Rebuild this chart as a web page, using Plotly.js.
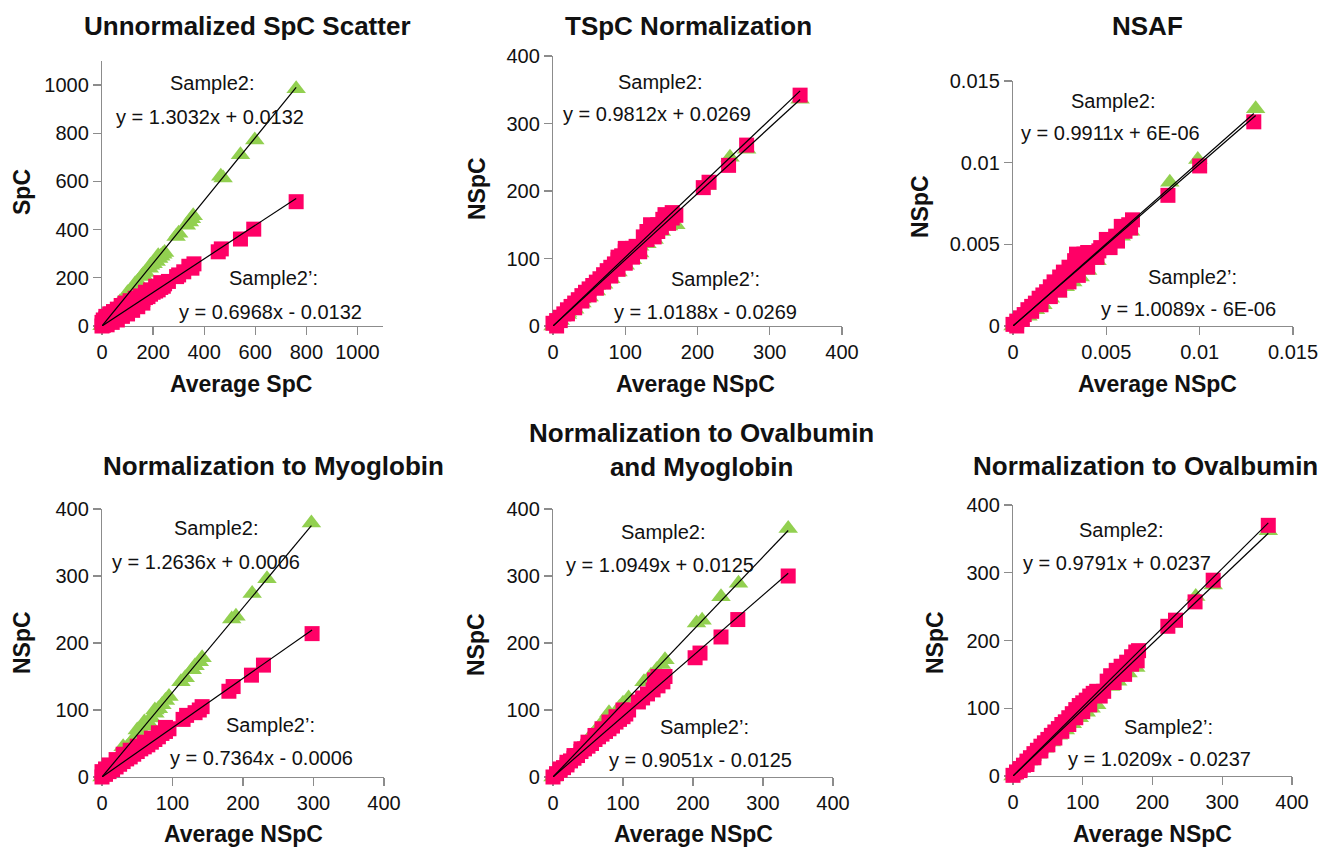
<!DOCTYPE html>
<html><head><meta charset="utf-8">
<script src="https://cdn.plot.ly/plotly-3.0.1.min.js"></script>
<style>html,body{margin:0;padding:0;background:#fff}#chart{width:1321px;height:847px}</style>
</head><body><div id="chart"></div><script>
// ---------- DATA ----------
const panelTitles = ["Unnormalized SpC Scatter", "TSpC Normalization", "NSAF",
  "Normalization to Myoglobin", "Normalization to Ovalbumin<br>and Myoglobin", "Normalization to Ovalbumin"];
const xTitles = ["Average SpC", "Average NSpC", "Average NSpC", "Average NSpC", "Average NSpC", "Average NSpC"];
const yTitles = ["SpC", "NSpC", "NSpC", "NSpC", "NSpC", "NSpC"];
const seriesNames = ["Sample2", "Sample2'"];

// Sample2 (green) and Sample2' (pink) trendline coefficients
const slopeSample2 = [1.3032, 0.9812, 0.9911, 1.2636, 1.0949, 0.9791];
const interceptSample2 = [0.0132, 0.0269, 0.000006, 0.0006, 0.0125, 0.0237];
const slopeSample2p = [0.6968, 1.0188, 1.0089, 0.7364, 0.9051, 1.0209];
const interceptSample2p = [-0.0132, -0.0269, -0.000006, -0.0006, -0.0125, -0.0237];
const eqSample2 = ["y = 1.3032x + 0.0132", "y = 0.9812x + 0.0269", "y = 0.9911x + 6E-06",
  "y = 1.2636x + 0.0006", "y = 1.0949x + 0.0125", "y = 0.9791x + 0.0237"];
const eqSample2p = ["y = 0.6968x - 0.0132", "y = 1.0188x - 0.0269", "y = 1.0089x - 6E-06",
  "y = 0.7364x - 0.0006", "y = 0.9051x - 0.0125", "y = 1.0209x - 0.0237"];

const xTickVals = [[0,200,400,600,800,1000],[0,100,200,300,400],[0,0.005,0.01,0.015],[0,100,200,300,400],[0,100,200,300,400],[0,100,200,300,400]];
const xTickText = [["0","200","400","600","800","1000"],["0","100","200","300","400"],["0","0.005","0.01","0.015"],["0","100","200","300","400"],["0","100","200","300","400"],["0","100","200","300","400"]];

// Panel 1: Unnormalized SpC
const p1GreenX = [760,598,542,474,465,357,350,342,330,300,290,245,238,230,222,212,200,185,170,155,140,125,110,95,80,65,50,35,20,10,5,0,40,70,100,130,160,190,220];
const p1GreenY = [985,772,711,614,622,458,445,432,418,385,372,305,298,290,280,268,258,240,222,205,185,165,146,126,106,88,68,48,28,15,7,1,62,100,138,175,212,252,292];
const p1PinkX = [760,594,542,467,455,360,352,340,320,300,292,260,245,240,230,220,210,200,190,180,170,160,150,140,130,120,110,100,90,80,70,60,50,40,30,20,10,5,0,15,25,35,45,60,75,90,110,130,150,170,190,210,230,10,0,20,40,60,80,100,120,140,160,5,15,30,50];
const p1PinkY = [516,402,361,320,308,258,240,248,225,212,205,185,175,165,160,150,145,140,132,122,118,110,104,96,90,82,76,70,62,55,48,42,35,28,20,14,7,3,0,30,40,50,60,70,85,95,105,115,125,140,150,165,180,20,15,5,15,25,40,50,65,80,95,25,40,50,55];

// Panel 2: TSpC normalization
const p2GreenX = [342,268,245,213,170,160,150,140,130,120,110,100,90,80,70,60,50,40,30,20,10,0,120,100,80,60,40,20];
const p2GreenY = [336,262,250,208,150,148,140,128,122,108,98,90,80,70,62,52,43,34,25,17,8,0,118,98,80,60,40,20];
const p2PinkX = [342,268,243,216,208,165,160,152,145,138,130,125,110,105,100,95,90,85,80,75,70,65,60,55,50,45,40,35,30,25,20,15,10,5,0,110,100,90,80,70,60,50,40,30,20,10,160,150,140,5,115,120,135,155,165,170,100,90,130,145];
const p2PinkY = [342,268,238,213,205,168,162,158,150,145,140,132,115,112,110,104,98,92,87,82,76,70,65,60,55,50,45,39,34,29,24,18,13,8,4,102,93,84,74,65,56,46,37,27,18,8,152,146,132,0,118,110,150,165,160,164,115,102,128,140];

// Panel 3: NSAF
const p3GreenX = [0.0130,0.0099,0.0084,0.0063,0.0058,0.0050,0.0045,0.0040,0.0036,0.0032,0.0028,0.0024,0.0020,0.0016,0.0012,0.0008,0.0004,0];
const p3GreenY = [0.0133,0.0102,0.0088,0.0058,0.0055,0.0047,0.0040,0.0034,0.0030,0.0027,0.0024,0.0020,0.0017,0.0013,0.0010,0.0006,0.0003,0];
const p3PinkX = [0.0129,0.0100,0.0083,0.0064,0.0062,0.0060,0.0055,0.0050,0.0047,0.0040,0.0036,0.0033,0.0030,0.0027,0.0025,0.0022,0.0020,0.0018,0.0016,0.0014,0.0012,0.0010,0.0008,0.0006,0.0004,0.0002,0,0.0045,0.0040,0.0035,0.0030,0.0025,0.0020,0.0015,0.0010,0.0005,0.0002,0.0034,0.0038,0.0042,0.0046,0.0058,0.0063,0.0056,0.0052];
const p3PinkY = [0.0125,0.0098,0.0080,0.0065,0.0062,0.0058,0.0055,0.0053,0.0048,0.0045,0.0040,0.0040,0.0036,0.0033,0.0030,0.0027,0.0024,0.0021,0.0019,0.0017,0.0014,0.0012,0.0010,0.0007,0.0005,0.0003,0.0001,0.0042,0.0036,0.0031,0.0027,0.0022,0.0018,0.0013,0.0009,0.0004,0,0.0044,0.0044,0.0044,0.0046,0.0061,0.0060,0.0052,0.0048];

// Panel 4: normalization to myoglobin
const p4GreenX = [297,234,213,190,184,142,138,132,128,118,112,95,90,85,80,75,70,65,60,55,50,45,40,35,30,25,20,15,10,5,0,30,50,60,75];
const p4GreenY = [379,296,274,240,236,178,172,166,160,148,142,120,114,108,102,95,88,82,76,70,63,57,50,44,38,32,25,19,13,6,0,45,70,82,100];
const p4PinkX = [298,229,212,186,180,142,138,132,120,115,95,90,85,80,75,70,65,60,55,50,45,40,35,30,25,20,15,10,5,0,10,20,30,40,50,60,70,80,90,5,0];
const p4PinkY = [214,167,152,135,128,105,100,96,92,86,72,68,65,60,56,52,48,45,42,38,34,30,27,23,19,15,11,8,4,0,18,26,34,40,46,52,58,66,74,12,8];

// Panel 5: normalization to ovalbumin and myoglobin
const p5GreenX = [336,265,240,213,205,160,155,148,140,130,108,100,95,80,75,70,65,60,55,50,45,40,35,30,25,20,15,10,5,0];
const p5GreenY = [371,289,269,234,230,175,168,160,152,142,118,110,104,96,88,80,74,68,62,56,50,44,38,32,27,22,16,11,5,0];
const p5PinkX = [336,264,240,210,203,160,157,150,143,135,128,122,108,104,100,95,90,85,80,75,70,65,60,55,50,45,40,35,30,25,20,15,10,5,0,100,90,80,70,60,50,40,30,20,10,150,145];
const p5PinkY = [300,235,209,185,178,150,142,136,130,124,118,112,100,94,90,86,82,76,72,68,64,60,56,50,46,42,38,32,28,24,18,14,10,5,0,100,90,82,72,62,52,42,32,22,12,150,145];

// Panel 6: normalization to ovalbumin
const p6GreenX = [366,287,262,230,176,165,150,140,120,112,105,95,85,75,65,55,45,35,25,15,5,0];
const p6GreenY = [362,282,265,225,160,152,140,132,105,100,94,86,77,68,60,50,41,32,22,13,4,0];
const p6PinkX = [366,287,261,233,222,176,170,163,155,148,140,135,115,110,105,100,95,90,85,80,75,70,65,60,55,50,45,40,35,30,25,20,15,10,5,0,110,100,90,80,70,60,50,40,30,20,10,170,160,120,125,130,180,178,150,145];
const p6PinkY = [370,289,257,230,221,183,176,168,162,156,148,140,122,118,112,108,104,98,92,86,80,76,70,65,60,54,49,44,38,33,27,22,16,11,6,1,105,95,86,76,66,56,46,37,27,17,8,165,150,125,118,125,185,170,150,138];

const greenX = [p1GreenX,p2GreenX,p3GreenX,p4GreenX,p5GreenX,p6GreenX];
const greenY = [p1GreenY,p2GreenY,p3GreenY,p4GreenY,p5GreenY,p6GreenY];
const pinkX = [p1PinkX,p2PinkX,p3PinkX,p4PinkX,p5PinkX,p6PinkX];
const pinkY = [p1PinkY,p2PinkY,p3PinkY,p4PinkY,p5PinkY,p6PinkY];

// ---------- LAYOUT (pixel geometry) ----------
const W = 1321, H = 847;
const px = v => v / W, py = v => 1 - v / H;
const plotBoxes = [ // [left, right, top, bottom] in px
  [102,383,61,326],[553,842,56,326],[1013,1293,81,326],
  [102,384,509,777],[553,833,509,777],[1013,1292,505,776]];
const ranges = [[0,1100],[0,400],[0,0.015],[0,400],[0,400],[0,400]];
const titlePos = [[247,26],[689,26],[1147,26],[273,466],[701,450],[1145,466]];
const xTitlePos = [[241,384],[695,384],[1157,384],[243,834],[693,834],[1152,834]];
const yTitlePos = [[22,192],[477,189],[920,207],[22,643],[476,645],[935,642]];
const s2LabelPos = [[212,83],[660,82],[1113,101],[216,528],[663,532],[1121,530]];
const s2EqPos = [[210,117],[657,114],[1110,133],[206,562],[660,565],[1117,563]];
const s2pLabelPos = [[273,278],[715,279],[1192,277],[270,725],[704,727],[1168,727]];
const s2pEqPos = [[270,312],[705,312],[1188,309],[261,758],[700,760],[1159,759]];

const FONT = "Liberation Sans, Arial, Helvetica, sans-serif";
const GREEN = "#92D050", PINK = "#FF0066";

const traces = [];
const layout = {
  width: W, height: H, margin: {l:0,r:0,t:0,b:0},
  paper_bgcolor: "#fff", plot_bgcolor: "#fff", showlegend: false,
  font: {family: FONT, color: "#111"}, annotations: []
};

for (let i = 0; i < 6; i++) {
  const n = i === 0 ? "" : String(i + 1);
  const xa = "x" + n, ya = "y" + n;
  const [l, r, t, b] = plotBoxes[i];
  const axBase = {
    showline: true, linecolor: "#8c8c8c", linewidth: 1.2,
    ticks: "outside", ticklen: 8, tickcolor: "#8c8c8c", tickwidth: 1.2,
    showgrid: false, zeroline: false, layer: "below traces",
    tickfont: {family: FONT, size: 20, color: "#111"}, fixedrange: true
  };
  layout["xaxis" + n] = Object.assign({}, axBase, {
    domain: [px(l), px(r)], range: ranges[i], anchor: ya,
    tickmode: "array", tickvals: xTickVals[i], ticktext: xTickText[i]
  });
  layout["yaxis" + n] = Object.assign({}, axBase, {
    domain: [py(b), py(t)], range: ranges[i], anchor: xa,
    tickmode: "array", tickvals: xTickVals[i], ticktext: xTickText[i]
  });

  traces.push({type: "scatter", mode: "markers", name: seriesNames[0], x: greenX[i], y: greenY[i],
    xaxis: xa, yaxis: ya, cliponaxis: false, hoverinfo: "skip",
    marker: {symbol: "triangle-up", size: 17, color: GREEN, line: {width: 0}}});
  traces.push({type: "scatter", mode: "markers", name: seriesNames[1], x: pinkX[i], y: pinkY[i],
    xaxis: xa, yaxis: ya, cliponaxis: false, hoverinfo: "skip",
    marker: {symbol: "square", size: 15, color: PINK, line: {width: 0}}});

  const gMax = Math.max(...greenX[i]), pMax = Math.max(...pinkX[i]);
  traces.push({type: "scatter", mode: "lines", x: [0, gMax],
    y: [interceptSample2[i], slopeSample2[i] * gMax + interceptSample2[i]],
    xaxis: xa, yaxis: ya, cliponaxis: false, hoverinfo: "skip", line: {color: "#000", width: 1.2}});
  traces.push({type: "scatter", mode: "lines", x: [0, pMax],
    y: [interceptSample2p[i], slopeSample2p[i] * pMax + interceptSample2p[i]],
    xaxis: xa, yaxis: ya, cliponaxis: false, hoverinfo: "skip", line: {color: "#000", width: 1.2}});

  const ann = (pos, text, size, extra) => Object.assign({
    xref: "paper", yref: "paper", x: px(pos[0]), y: py(pos[1]), text: text,
    showarrow: false, xanchor: "center", yanchor: "middle",
    font: {family: FONT, size: size, color: "#111"}
  }, extra || {});
  layout.annotations.push(ann(titlePos[i], "<b>" + panelTitles[i] + "</b>", 26));
  layout.annotations.push(ann(xTitlePos[i], "<b>" + xTitles[i] + "</b>", 23));
  layout.annotations.push(ann(yTitlePos[i], "<b>" + yTitles[i] + "</b>", 23, {textangle: -90}));
  layout.annotations.push(ann(s2LabelPos[i], seriesNames[0] + ":", 20));
  layout.annotations.push(ann(s2EqPos[i], eqSample2[i], 20));
  layout.annotations.push(ann(s2pLabelPos[i], "Sample2\u2019:", 20));
  layout.annotations.push(ann(s2pEqPos[i], eqSample2p[i], 20));
}

Plotly.newPlot("chart", traces, layout, {displayModeBar: false, staticPlot: true});
</script></body></html>
